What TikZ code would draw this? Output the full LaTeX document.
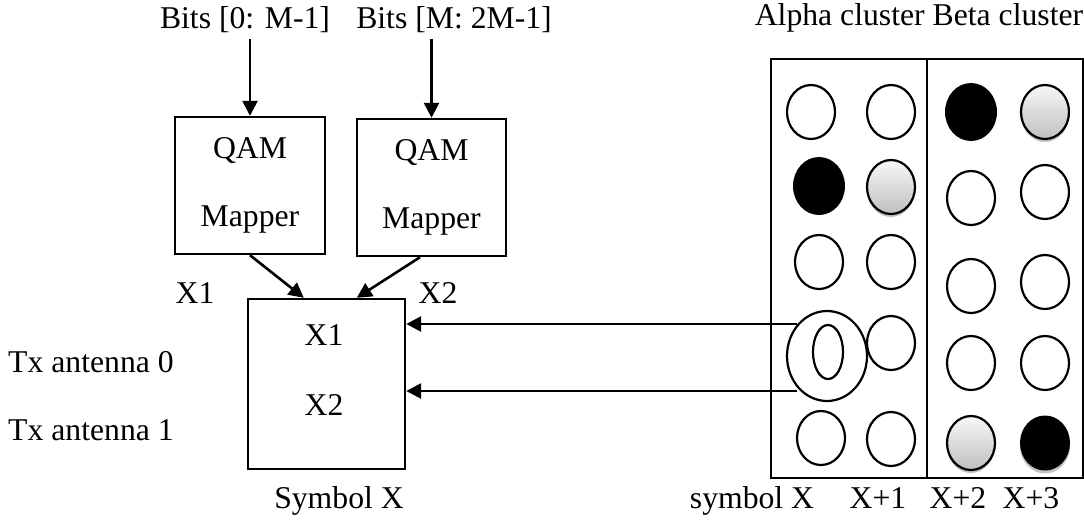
\documentclass[tikz,border=0pt]{standalone}
\usepackage{fontspec}
\setmainfont{Liberation Serif}
\usetikzlibrary{arrows.meta,shapes.geometric,calc,shadows}
\begin{document}
\begin{tikzpicture}[x=1pt,y=-1pt,
  every node/.style={font=\fontsize{31.7}{38}\selectfont},
  txt/.style={inner sep=0pt, anchor=base},
  box/.style={draw, line width=2.4pt, inner sep=0pt, minimum width=#1},
  arr/.style={line width=2.6pt, -{Triangle[length=15pt,width=15pt]}},
  frame/.style={draw, line width=2.4pt, inner sep=0pt, minimum width=156pt, minimum height=419pt},
  dot/.style={ellipse, inner sep=0pt, line width=2.2pt, minimum width=48pt, minimum height=54pt},
  wdot/.style={dot, draw, fill=white},
  bdot/.style={dot, fill=black, minimum width=52pt, minimum height=58pt},
  gdot/.style={dot, draw, top color=gray!6, bottom color=gray!50},
  shd/.style={drop shadow={shadow xshift=0pt, shadow yshift=-3pt, opacity=0.6, fill=gray!80}}
]
\useasboundingbox (0,0) rectangle (1084,520);

% input bits and QAM mappers
\node[txt] (b0) at (245,28) {Bits [0: M-1]};
\node[txt] (b1) at (454,28) {Bits [M: 2M-1]};
\node[box=150pt, minimum height=137pt, align=center] (q1) at (250,185.5) {QAM\\[30pt]Mapper};
\node[box=149pt, minimum height=137pt, align=center] (q2) at (431.5,187.5) {QAM\\[30pt]Mapper};

\draw[arr] ($(b0.south -| q1.north)+(0,6.5)$) -- (q1.north);
\draw[arr] ($(b1.south -| q2.north)+(0,6.5)$) -- (q2.north);

% symbol block
\node[box=157pt, minimum height=170pt] (sym) at (326.5,384) {};
\node[txt] (sx1) at (324,345) {X1};
\node[txt] (sx2) at (324,415) {X2};
\node[txt] (lx1) at (195,303) {X1};
\node[txt] (lx2) at (438,303) {X2};
\node[txt] (symx) at (339,508) {Symbol X};
\node[txt, anchor=base west] (tx0) at (8,372) {Tx antenna 0};
\node[txt, anchor=base west] (tx1) at (8,440) {Tx antenna 1};

\draw[arr] (q1.south) -- ($(sym.north west)+(57,0)$);
\draw[arr] ($(q2.south)+(-11.5,0)$) -- ($(sym.north west)+(110,0)$);

% alpha / beta clusters
\node[frame] (alpha) at (849,268.5) {};
\node[frame] (beta) at (1005,268.5) {};
\node[txt] (clab) at (919,25) {Alpha cluster Beta cluster};

% row 1
\node[wdot] (c11) at (811,112) {};
\node[wdot] (c12) at (891,112) {};
\node[bdot] (c13) at (971,112) {};
\node[gdot, shd] (c14) at (1045,112) {};
% row 2
\node[bdot] (c21) at (819,186) {};
\node[gdot, shd] (c22) at (891,187) {};
\node[wdot] (c23) at (971,198) {};
\node[wdot] (c24) at (1045,192) {};
% row 3
\node[wdot] (c31) at (819,262) {};
\node[wdot] (c32) at (891,262) {};
\node[wdot] (c33) at (971,286) {};
\node[wdot] (c34) at (1045,282) {};
% row 4
\node[wdot, minimum width=80pt, minimum height=90pt] (big) at (827,356) {};
\node[dot, draw, minimum width=30pt] (inner) at (828,352) {};
\node[wdot, fill=none] (c42) at (891,343) {};
\node[wdot] (c43) at (971,363) {};
\node[wdot] (c44) at (1045,363) {};
% row 5
\node[wdot] (c51) at (821,438) {};
\node[wdot] (c52) at (891,439) {};
\node[gdot, shd] (c53) at (971,443) {};
\node[bdot, shd, minimum width=50pt, minimum height=55pt] (c54) at (1045,443) {};

% symbol X feeding both antennas
\coordinate (s0) at (797,324);
\coordinate (s1) at (797,391);
\draw[arr] (s0) -- (s0 -| sym.east);
\draw[arr] (s1) -- (s1 -| sym.east);

% symbol indices
\node[txt] (ix0) at (752,508) {symbol X};
\node[txt] (ix1) at (878,508) {X+1};
\node[txt] (ix2) at (958,508) {X+2};
\node[txt] (ix3) at (1031,508) {X+3};
\end{tikzpicture}
\end{document}
